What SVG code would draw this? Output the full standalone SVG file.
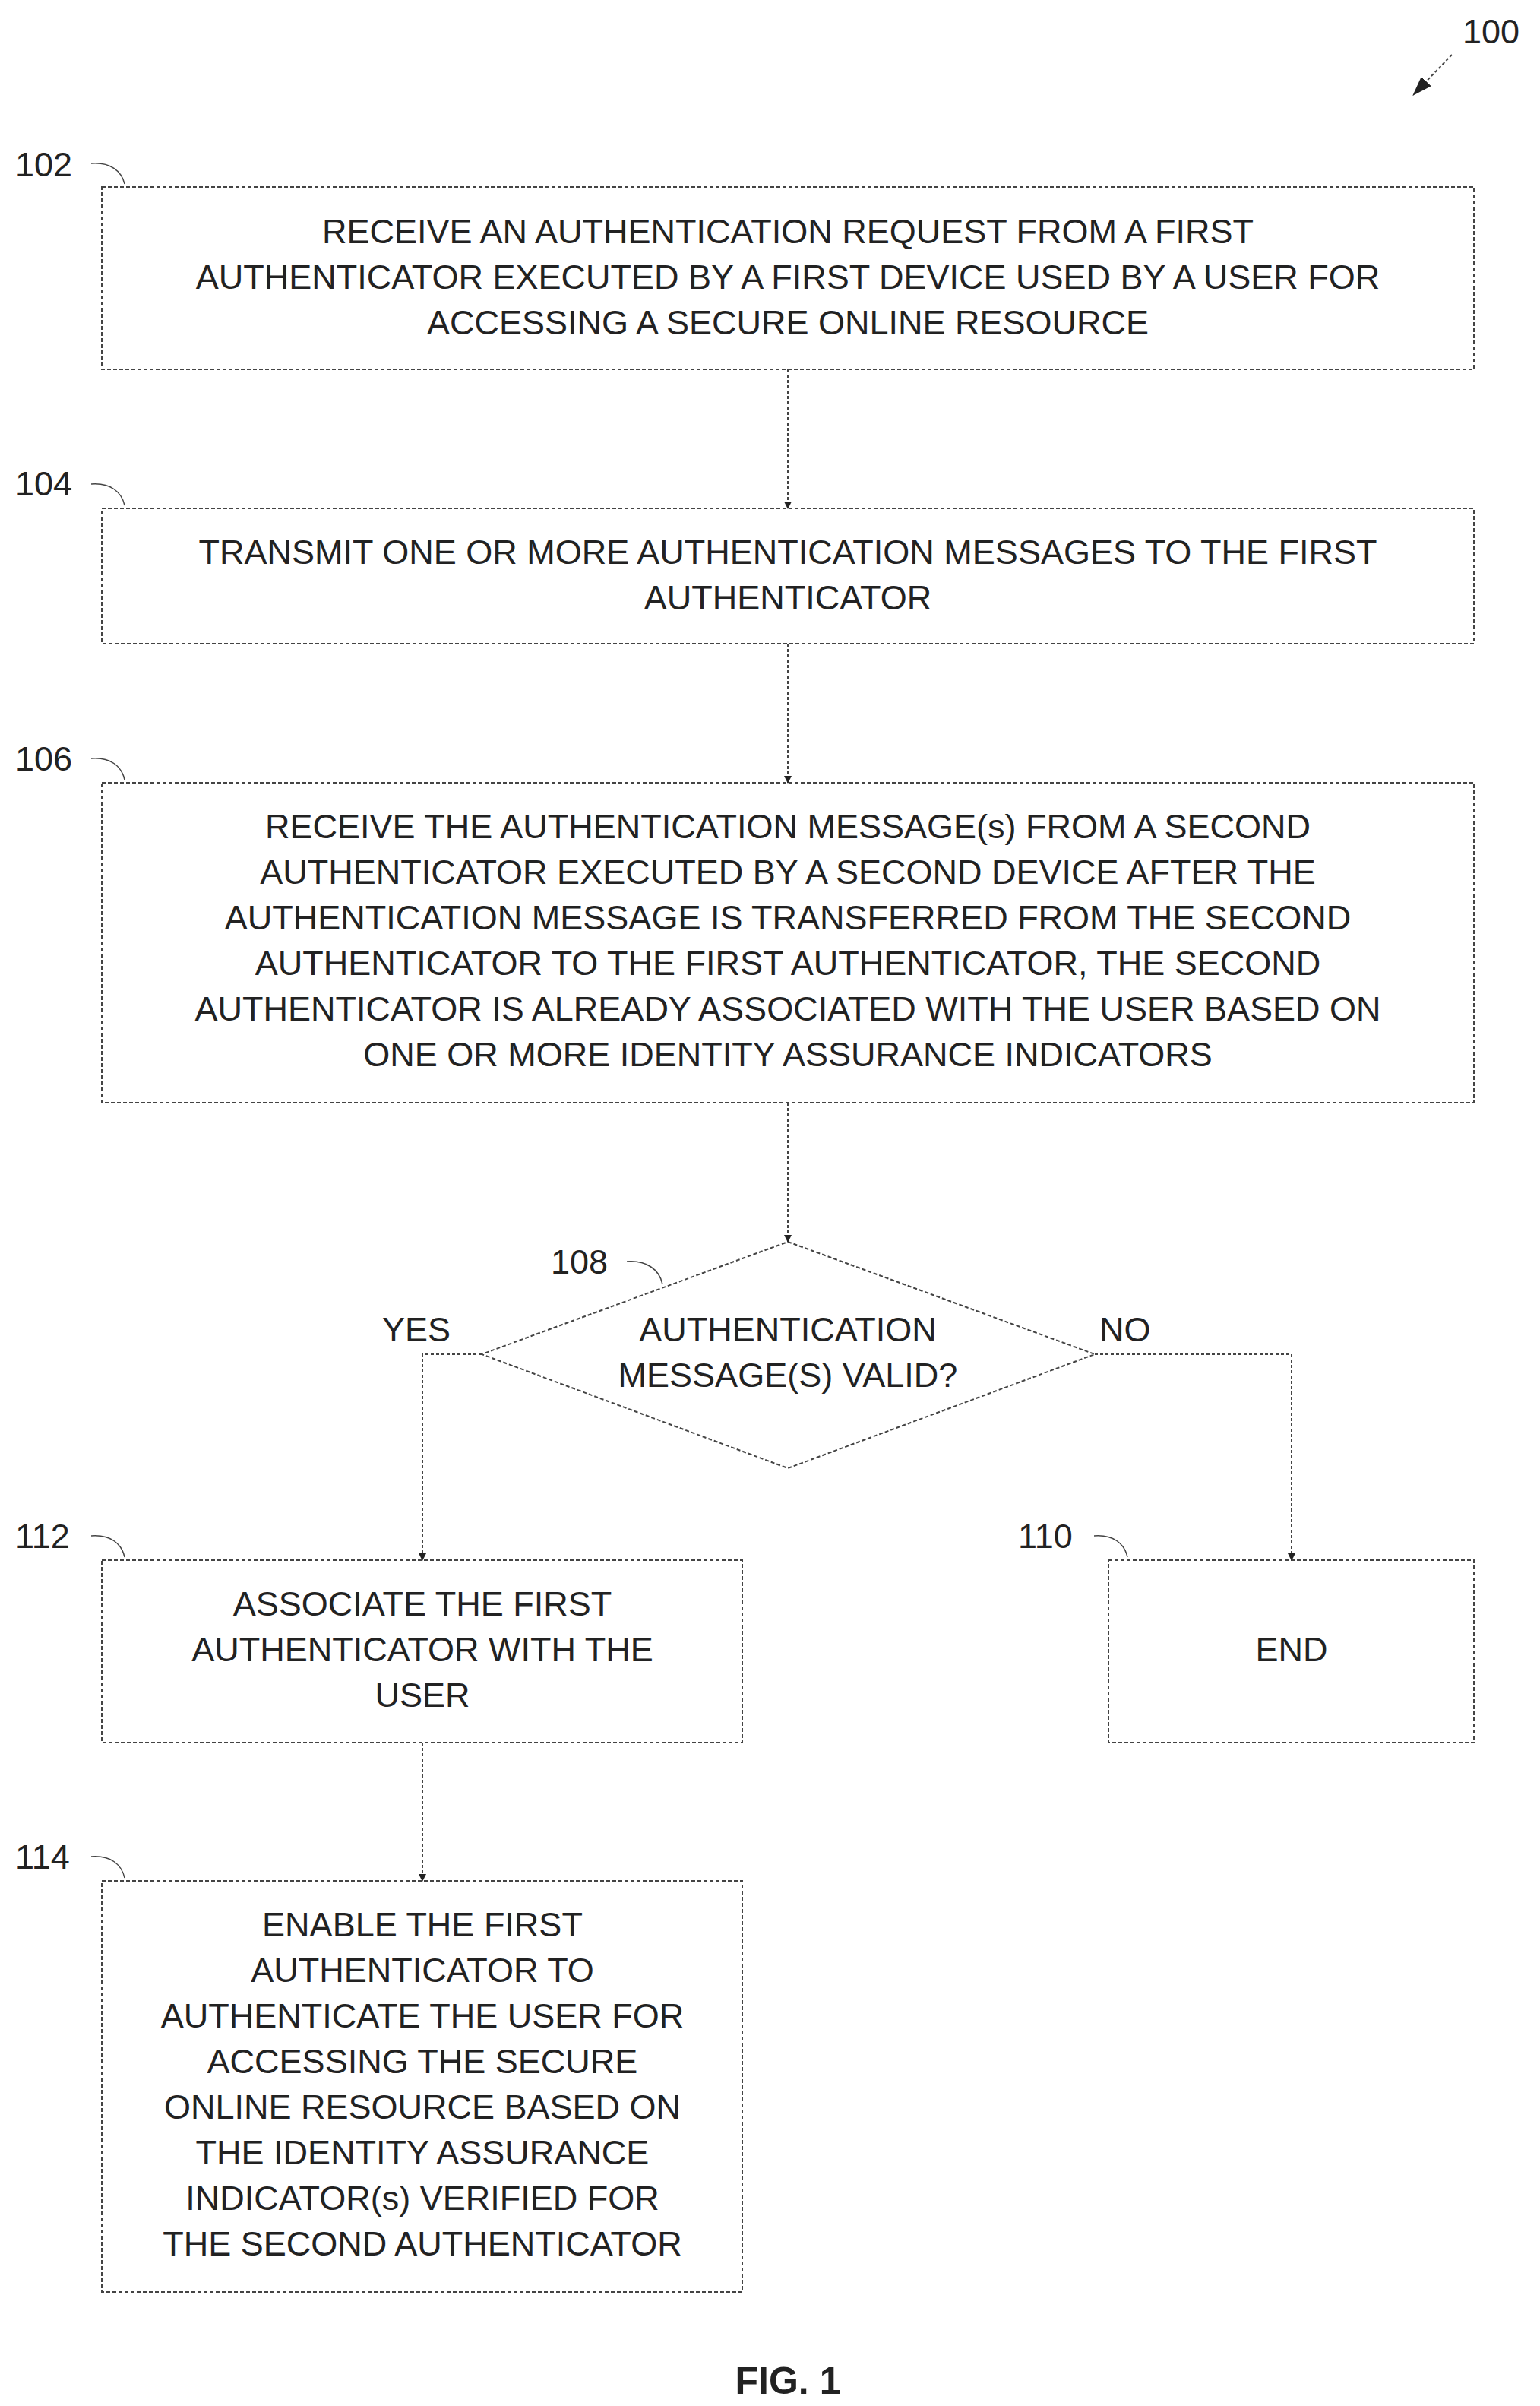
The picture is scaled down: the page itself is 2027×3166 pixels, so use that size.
<svg xmlns="http://www.w3.org/2000/svg" width="2027" height="3166" viewBox="0 0 2027 3166">
<style>
.b{fill:#fff;stroke:#444;stroke-width:2;stroke-dasharray:5,3}
.t{font-family:"Liberation Sans",Arial,sans-serif;font-size:45px;fill:#222;text-anchor:middle}
.l{font-family:"Liberation Sans",Arial,sans-serif;font-size:45px;fill:#222}
.c{fill:none;stroke:#444;stroke-width:2;stroke-dasharray:4,3}
.k{fill:none;stroke:#444;stroke-width:1.5}
</style>
<defs><marker id="a" markerWidth="10" markerHeight="10" refX="9" refY="5" orient="auto" markerUnits="userSpaceOnUse" viewBox="0 0 10 10"><path d="M0,0L10,5L0,10Z" fill="#222"/></marker>
<marker id="a2" markerWidth="26" markerHeight="26" refX="22" refY="13" orient="auto" markerUnits="userSpaceOnUse" viewBox="0 0 26 26"><path d="M0,4L26,13L0,22Z" fill="#222"/></marker></defs>
<g id="ref100"><text class="l" x="1925" y="57">100</text><path class="c" d="M1911,72L1862,123" marker-end="url(#a2)"/></g>
<g id="n102"><text class="l" x="20" y="232">102</text><path class="k" d="M120,215C145,213 160,225 164,242"/>
<rect class="b" x="134" y="246" width="1806" height="240"/>
<text class="t" x="1037" y="320">RECEIVE AN AUTHENTICATION REQUEST FROM A FIRST</text>
<text class="t" x="1037" y="380">AUTHENTICATOR EXECUTED BY A FIRST DEVICE USED BY A USER FOR</text>
<text class="t" x="1037" y="440">ACCESSING A SECURE ONLINE RESOURCE</text></g>
<g id="n104"><text class="l" x="20" y="652">104</text><path class="k" d="M120,637C145,635 160,647 164,665"/>
<rect class="b" x="134" y="669" width="1806" height="178"/>
<text class="t" x="1037" y="742">TRANSMIT ONE OR MORE AUTHENTICATION MESSAGES TO THE FIRST</text>
<text class="t" x="1037" y="802">AUTHENTICATOR</text></g>
<g id="n106"><text class="l" x="20" y="1014">106</text><path class="k" d="M120,998C145,996 160,1008 164,1026"/>
<rect class="b" x="134" y="1030" width="1806" height="421"/>
<text class="t" x="1037" y="1103">RECEIVE THE AUTHENTICATION MESSAGE(s) FROM A SECOND</text>
<text class="t" x="1037" y="1163">AUTHENTICATOR EXECUTED BY A SECOND DEVICE AFTER THE</text>
<text class="t" x="1037" y="1223">AUTHENTICATION MESSAGE IS TRANSFERRED FROM THE SECOND</text>
<text class="t" x="1037" y="1283">AUTHENTICATOR TO THE FIRST AUTHENTICATOR, THE SECOND</text>
<text class="t" x="1037" y="1343">AUTHENTICATOR IS ALREADY ASSOCIATED WITH THE USER BASED ON</text>
<text class="t" x="1037" y="1403">ONE OR MORE IDENTITY ASSURANCE INDICATORS</text></g>
<g id="n108"><text class="l" x="725" y="1676">108</text><path class="k" d="M825,1660C850,1658 868,1670 872,1690"/>
<polygon class="b" points="1037,1634 1441,1782 1037,1932 634,1782"/>
<text class="t" x="1037" y="1765">AUTHENTICATION</text>
<text class="t" x="1037" y="1825">MESSAGE(S) VALID?</text></g>
<g id="n112"><text class="l" x="20" y="2037">112</text><path class="k" d="M120,2021C145,2019 160,2031 164,2049"/>
<rect class="b" x="134" y="2053" width="843" height="240"/>
<text class="t" x="556" y="2126">ASSOCIATE THE FIRST</text>
<text class="t" x="556" y="2186">AUTHENTICATOR WITH THE</text>
<text class="t" x="556" y="2246">USER</text></g>
<g id="n110"><text class="l" x="1340" y="2037">110</text><path class="k" d="M1440,2021C1465,2019 1480,2031 1484,2049"/>
<rect class="b" x="1459" y="2053" width="481" height="240"/>
<text class="t" x="1700" y="2186">END</text></g>
<g id="n114"><text class="l" x="20" y="2459">114</text><path class="k" d="M120,2443C145,2441 160,2453 164,2471"/>
<rect class="b" x="134" y="2475" width="843" height="541"/>
<text class="t" x="556" y="2548">ENABLE THE FIRST</text>
<text class="t" x="556" y="2608">AUTHENTICATOR TO</text>
<text class="t" x="556" y="2668">AUTHENTICATE THE USER FOR</text>
<text class="t" x="556" y="2728">ACCESSING THE SECURE</text>
<text class="t" x="556" y="2788">ONLINE RESOURCE BASED ON</text>
<text class="t" x="556" y="2848">THE IDENTITY ASSURANCE</text>
<text class="t" x="556" y="2908">INDICATOR(s) VERIFIED FOR</text>
<text class="t" x="556" y="2968">THE SECOND AUTHENTICATOR</text></g>
<g id="connectors">
<path class="c" d="M1037,486V669" marker-end="url(#a)"/>
<path class="c" d="M1037,847V1030" marker-end="url(#a)"/>
<path class="c" d="M1037,1451V1634" marker-end="url(#a)"/>
<path class="c" d="M634,1782H556V2053" marker-end="url(#a)"/>
<path class="c" d="M1441,1782H1700V2053" marker-end="url(#a)"/>
<path class="c" d="M556,2293V2475" marker-end="url(#a)"/>
<text class="l" x="503" y="1765">YES</text>
<text class="l" x="1447" y="1765">NO</text>
</g>
<text class="t" x="1037" y="3150" style="font-weight:bold;font-size:50px">FIG. 1</text>
</svg>
